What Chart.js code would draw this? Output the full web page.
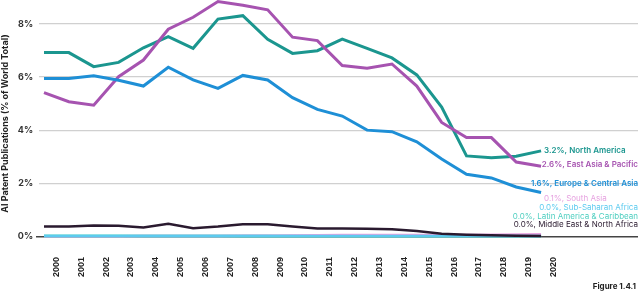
<!DOCTYPE html>
<html>
<head>
<meta charset="utf-8">
<script src="https://cdn.jsdelivr.net/npm/chart.js@4"></script>
<style>
  html, body { margin: 0; padding: 0; background: #fff; }
  #wrap { width: 640px; height: 291px; }
</style>
</head>
<body>
<div id="wrap"><canvas id="patentChart"></canvas></div>
<script>
// values (% of world total)
const years = [2000, 2001, 2002, 2003, 2004, 2005, 2006, 2007, 2008, 2009, 2010,
  2011, 2012, 2013, 2014, 2015, 2016, 2017, 2018, 2019, 2020];
const northAmerica = [6.92, 6.92, 6.39, 6.55, 7.10, 7.52, 7.08, 8.18, 8.31, 7.42, 6.89,
  6.99, 7.43, 7.08, 6.72, 6.08, 4.87, 3.03, 2.96, 3.02, 3.22];
const eastAsiaPacific = [5.41, 5.07, 4.94, 6.01, 6.64, 7.80, 8.25, 8.84, 8.70, 8.53, 7.50,
  7.37, 6.43, 6.33, 6.49, 5.66, 4.29, 3.72, 3.72, 2.80, 2.64];
const europeCentralAsia = [5.94, 5.94, 6.05, 5.88, 5.66, 6.37, 5.89, 5.57, 6.06, 5.89, 5.22,
  4.78, 4.53, 4.00, 3.94, 3.56, 2.91, 2.34, 2.20, 1.86, 1.65];
const middleEastNorthAfrica = [0.37, 0.37, 0.41, 0.40, 0.33, 0.47, 0.31, 0.37, 0.46, 0.46, 0.37,
  0.30, 0.30, 0.29, 0.27, 0.20, 0.10, 0.06, 0.04, 0.02, 0.01];
const southAsia = [0.00, 0.00, 0.00, 0.00, 0.01, 0.01, 0.01, 0.01, 0.02, 0.02, 0.03,
  0.04, 0.05, 0.05, 0.05, 0.05, 0.04, 0.05, 0.06, 0.07, 0.08];
const subSaharanAfrica = [0.01, 0.01, 0.01, 0.01, 0.01, 0.01, 0.01, 0.01, 0.01, 0.01, 0.01,
  0.01, 0.01, 0.01, 0.01, 0.01, 0.01, 0.01, 0.01, 0.01, 0.01];
const latinAmericaCaribbean = [0.01, 0.01, 0.01, 0.01, 0.01, 0.01, 0.01, 0.01, 0.01, 0.01, 0.01,
  0.01, 0.01, 0.01, 0.01, 0.01, 0.01, 0.01, 0.01, 0.01, 0.01];
const yTicks = [0, 2, 4, 6, 8];

const FONT = "Inter, 'DejaVu Sans', sans-serif";
const TICK_FONT = "'Liberation Sans', Arial, sans-serif";

function pts(values) {
  return values.map((v, i) => ({ x: years[i], y: v }));
}

// series: name, values, colour, line width, label y (px), label weight
const series = [
  { name: "Middle East & North Africa", data: middleEastNorthAfrica, color: "#2a1a2f", width: 2.5, labelY: 225, bold: false },
  { name: "Sub-Saharan Africa", data: subSaharanAfrica, color: "#5ccbef", width: 2.5, labelY: 208, bold: false },
  { name: "South Asia", data: southAsia, color: "#e6a2e0", width: 2.5, labelY: 199, bold: false },
  { name: "Latin America & Caribbean", data: latinAmericaCaribbean, color: "#4fcfc0", width: 3, labelY: 217, bold: false },
  { name: "Europe & Central Asia", data: europeCentralAsia, color: "#1e8fd6", width: 3, labelY: 184, bold: true },
  { name: "East Asia & Pacific", data: eastAsiaPacific, color: "#a653b0", width: 3, labelY: 165, bold: true },
  { name: "North America", data: northAmerica, color: "#1b968f", width: 3, labelY: 151, bold: true },
];

const endLabels = {
  id: "endLabels",
  afterDatasetsDraw(chart) {
    const ctx = chart.ctx;
    const area = chart.chartArea;
    ctx.save();
    ctx.textBaseline = "middle";
    chart.data.datasets.forEach((ds, di) => {
      const s = series[di];
      const meta = chart.getDatasetMeta(di);
      const last = meta.data[meta.data.length - 1];
      const v = ds.data[ds.data.length - 1].y;
      const text = v.toFixed(1) + "%, " + s.name;
      ctx.font = (s.bold ? "600 " : "400 ") + "8px " + FONT;
      ctx.fillStyle = s.color;
      const w = ctx.measureText(text).width;
      let x = last.x + 3;
      if (x + w > area.right) x = area.right - w;
      ctx.textAlign = "left";
      ctx.fillText(text, x, s.labelY);
    });
    ctx.font = "700 8px " + FONT;
    ctx.fillStyle = "#222";
    ctx.textAlign = "right";
    ctx.textBaseline = "alphabetic";
    ctx.fillText("Figure 1.4.1", 636, 289);
    ctx.restore();
  }
};

function noEdgePadding(scale) {
  scale.paddingTop = 0;
  scale.paddingBottom = 0;
  scale.paddingLeft = 0;
  scale.paddingRight = 0;
}

new Chart(document.getElementById("patentChart"), {
  type: "line",
  data: {
    datasets: series.map((s) => ({
      label: s.name,
      data: pts(s.data),
      borderColor: s.color,
      borderWidth: s.width,
      pointRadius: 0,
      tension: 0,
      fill: false,
      clip: 4,
    })),
  },
  options: {
    responsive: true,
    maintainAspectRatio: false,
    animation: false,
    layout: { padding: { top: 0, right: 2, bottom: 4, left: 0 } },
    plugins: { legend: { display: false }, tooltip: { enabled: false } },
    scales: {
      x: {
        type: "linear",
        min: 1999.8,
        max: 2023.9,
        grid: { display: false, drawTicks: false },
        border: { display: false },
        afterBuildTicks(scale) {
          scale.ticks = years.map((y) => ({ value: y + 0.5 }));
        },
        afterFit: noEdgePadding,
        ticks: {
          autoSkip: false,
          minRotation: 90,
          maxRotation: 90,
          padding: 10,
          color: "#222",
          font: { family: TICK_FONT, size: 9, weight: "700" },
          callback: (value, index) => String(years[index]),
        },
      },
      y: {
        min: -0.4,
        max: 8.9,
        afterBuildTicks(scale) {
          scale.ticks = yTicks.map((v) => ({ value: v }));
        },
        afterFit: noEdgePadding,
        grid: {
          color: (c) => (c.tick && c.tick.value === 0 ? "#444" : "#d0d0d0"),
          lineWidth: (c) => (c.tick && c.tick.value === 0 ? 1.5 : 1.2),
          tickColor: (c) => (c.tick && c.tick.value === 0 ? "#444" : "rgba(0,0,0,0)"),
          tickLength: 3,
        },
        border: { display: false },
        ticks: {
          padding: 3,
          color: "#333",
          font: { family: FONT, size: 9, weight: "700" },
          callback: (v) => v + "%",
        },
        title: {
          display: true,
          text: "AI Patent Publications (% of World Total)",
          color: "#222",
          padding: { top: 0, bottom: 4 },
          font: { family: FONT, size: 9, weight: "700" },
        },
      },
    },
  },
  plugins: [endLabels],
});
</script>
</body>
</html>
